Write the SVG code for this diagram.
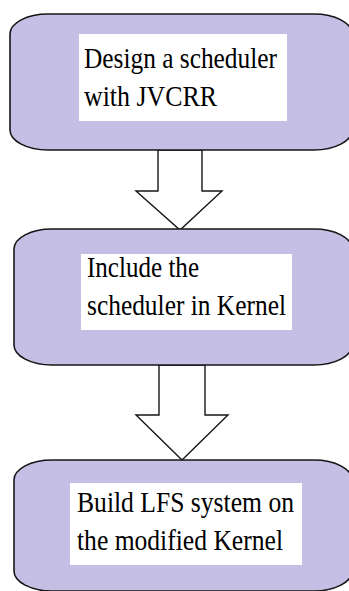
<svg xmlns="http://www.w3.org/2000/svg" width="349" height="591" viewBox="0 0 349 591">
  <style>
    .step { fill: #c5bfe5; stroke: #161616; stroke-width: 1.6; }
    .label-bg { fill: #ffffff; }
    .label { font-family: "Liberation Serif", "Times New Roman", serif; font-size: 30px; fill: #000000; }
    .flow { fill: #ffffff; stroke: #161616; stroke-width: 1.4; stroke-linejoin: miter; }
  </style>
  <rect x="0" y="0" width="349" height="591" fill="#ffffff"/>

  <!-- block arrows between the steps -->
  <g id="connectors">
    <polygon class="flow" points="158,150 202,150 202,191 222,191 180,230 136,191 158,191"/>
    <polygon class="flow" points="159,365 205,365 205,415 228,415 182,460 136,415 159,415"/>
  </g>

  <g id="step-design">
    <rect class="step" x="10" y="14" width="342" height="136" rx="38" ry="20"/>
    <rect class="label-bg" x="79" y="34" width="208" height="87"/>
    <text class="label" x="84" y="68" textLength="193" lengthAdjust="spacingAndGlyphs">Design a scheduler</text>
    <text class="label" x="84" y="106" textLength="133" lengthAdjust="spacingAndGlyphs">with JVCRR</text>
  </g>

  <g id="step-include">
    <rect class="step" x="14" y="229" width="338" height="136" rx="38" ry="20"/>
    <rect class="label-bg" x="81" y="254" width="211" height="76"/>
    <text class="label" x="87" y="277" textLength="112" lengthAdjust="spacingAndGlyphs">Include the</text>
    <text class="label" x="87" y="315" textLength="199" lengthAdjust="spacingAndGlyphs">scheduler in Kernel</text>
  </g>

  <g id="step-build">
    <rect class="step" x="14" y="460" width="338" height="131" rx="38" ry="20"/>
    <rect class="label-bg" x="70" y="483" width="232" height="82"/>
    <text class="label" x="77" y="512" textLength="217" lengthAdjust="spacingAndGlyphs">Build LFS system on</text>
    <text class="label" x="77" y="550" textLength="206" lengthAdjust="spacingAndGlyphs">the modified Kernel</text>
  </g>
</svg>
